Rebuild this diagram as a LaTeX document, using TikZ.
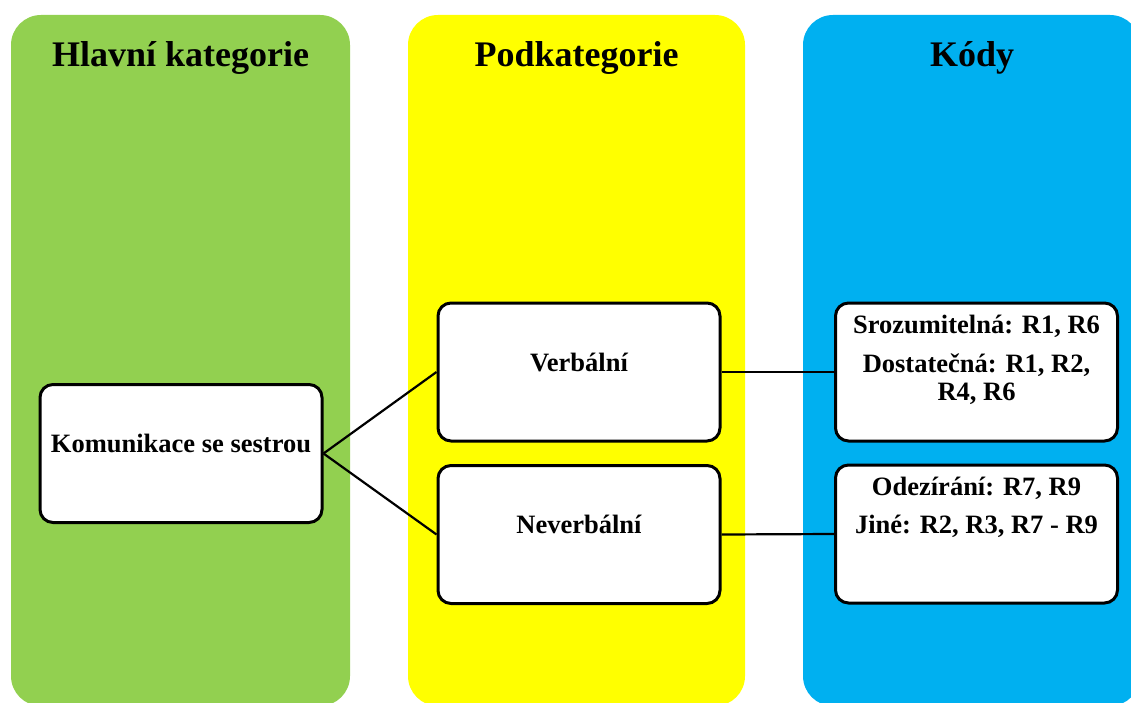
\documentclass[tikz,border=0pt]{standalone}
\usepackage{fontspec}
\setmainfont{Liberation Serif}
\usetikzlibrary{calc}
\definecolor{colgreen}{HTML}{92D050}
\definecolor{colyellow}{HTML}{FFFF00}
\definecolor{colblue}{HTML}{00B0F0}
\tikzset{
  column/.style={rounded corners=30pt},
  box/.style={draw=black, line width=3pt, fill=white, rounded corners=13pt,
    minimum width=282pt, minimum height=138pt, inner sep=0pt},
  title/.style={font=\fontsize{36}{42}\selectfont\bfseries, anchor=base, inner sep=0pt},
  txt/.style={font=\fontsize{26.5}{31}\selectfont\bfseries, anchor=base, inner sep=0pt},
  link/.style={line width=2.2pt}
}
\begin{document}
\begin{tikzpicture}[x=1pt,y=-1pt]
  \clip (0,0) rectangle (1131,703);
  \fill[white] (0,0) rectangle (1131,703);

  % three background columns
  \fill[colgreen, column]  (11,15)  rectangle (350,706);
  \fill[colyellow, column] (408,15) rectangle (745,706);
  \fill[colblue, column]   (803,15) rectangle (1140,706);

  % column headings
  \node[title] (t1) at (180.5,67) {Hlavní kategorie};
  \node[title] (t2) at (576.5,67) {Podkategorie};
  \node[title] (t3) at (972,67) {Kódy};

  % boxes
  \node[box] (kom)  at (181,453.5) {};
  \node[box] (verb) at (579,372) {};
  \node[box] (nev)  at (579,534.5) {};
  \node[box] (kod1) at (976.5,372) {};
  \node[box] (kod2) at (976.5,534) {};

  % connectors
  \draw[link] (kom.east) -- (verb.west);
  \draw[link] (kom.east) -- (nev.west);
  \draw[link] (verb.east) -- (kod1.west);
  \draw[link] (nev.east) -- (kod2.west);

  % box texts
  \node[txt] (komt)  at (181,452) {Komunikace se sestrou};
  \node[txt] (verbt) at (579,371) {Verbální};
  \node[txt] (nevt)  at (579,533) {Neverbální};
  \node[txt] (k1a) at (976.5,333) {Srozumitelná: R1, R6};
  \node[txt] (k1b) at (976.5,372) {Dostatečná: R1, R2,};
  \node[txt] (k1c) at (976.5,400) {R4, R6};
  \node[txt] (k2a) at (976.5,495) {Odezírání: R7, R9};
  \node[txt] (k2b) at (976.5,533) {Jiné: R2, R3, R7 - R9};
\end{tikzpicture}
\end{document}
